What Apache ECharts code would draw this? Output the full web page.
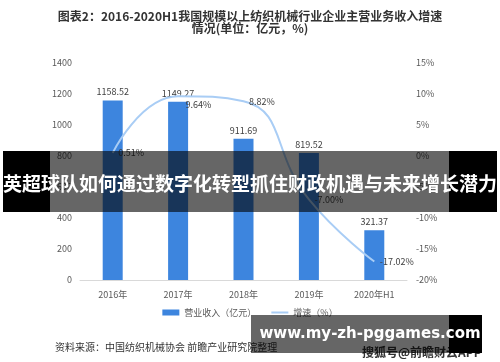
<!DOCTYPE html>
<html><head><meta charset="utf-8">
<script src="https://cdn.jsdelivr.net/npm/echarts@6/dist/echarts.min.js"></script>
<style>html,body{margin:0;padding:0;background:#fff}#c{width:500px;height:362px}</style>
</head><body><div id="c"></div>
<script>
var categories = ['2016年', '2017年', '2018年', '2019年', '2020年H1'];
var revenue = [1158.52, 1149.27, 911.69, 819.52, 321.37];
var growth = [0.51, 9.64, 8.82, -7.00, -17.02];
var leftTicks = [0, 1400, 200];
var rightTicks = [-20, 15, 5];
var titleText = '图表2：2016-2020H1我国规模以上纺织机械行业企业主营业务收入增速\n情况(单位：亿元，%)';
var sourceText = '资料来源：中国纺织机械协会 前瞻产业研究院整理';
var bannerText = '英超球队如何通过数字化转型抓住财政机遇与未来增长潜力';
var urlText = 'www.my-zh-pggames.com';
var seriesNames = ['营业收入（亿元）', '增速（%）'];

var font = '"Noto Sans CJK SC", "Noto Sans", sans-serif';
var growthData = growth.map(function (v, i) {
  return i === 1 ? {value: v, label: {position: [8, 4]}} : v;
});
var chart = echarts.init(document.getElementById('c'), null, {renderer: 'canvas'});
chart.setOption({
  animation: false,
  title: {
    text: titleText, left: 'center', top: 5,
    textStyle: {fontSize: 12, fontWeight: 'bold', color: '#333', fontFamily: font, lineHeight: 12}
  },
  legend: {
    top: 303, left: 'center', itemGap: 14,
    itemWidth: 17, itemHeight: 6,
    textStyle: {fontSize: 9, color: '#595959', fontFamily: font},
    data: [{name: seriesNames[0], icon: 'rect'}, {name: seriesNames[1]}]
  },
  grid: {left: 80, right: 93, top: 63, bottom: 82},
  xAxis: {
    type: 'category', data: categories,
    axisLine: {lineStyle: {color: '#d9d9d9'}},
    axisTick: {show: false},
    axisLabel: {fontSize: 9, color: '#595959', fontFamily: font, margin: 10}
  },
  yAxis: [{
    type: 'value', min: leftTicks[0], max: leftTicks[1], interval: leftTicks[2],
    splitLine: {show: false}, axisLine: {show: false}, axisTick: {show: false},
    axisLabel: {fontSize: 9, color: '#595959', fontFamily: font, margin: 8, formatter: function (v) { return String(v); }}
  }, {
    type: 'value', min: rightTicks[0], max: rightTicks[1], interval: rightTicks[2],
    splitLine: {show: false}, axisLine: {show: false}, axisTick: {show: false},
    axisLabel: {fontSize: 9, color: '#595959', fontFamily: font, margin: 9, formatter: '{value}%'}
  }],
  series: [{
    name: seriesNames[0], type: 'bar', data: revenue, barWidth: 20,
    itemStyle: {color: '#3d85de'},
    label: {show: true, position: 'top', fontSize: 9, color: '#404040', fontFamily: font, distance: 4}
  }, {
    name: seriesNames[1], type: 'line', yAxisIndex: 1, data: growthData, smooth: 0.5,
    symbol: 'circle', symbolSize: 1, showSymbol: true,
    lineStyle: {color: '#a9cdf5', width: 2}, itemStyle: {color: 'rgba(0,0,0,0)'},
    label: {show: true, position: 'right', fontSize: 9, color: '#404040', fontFamily: font, distance: 5,
      formatter: function (p) { return p.value.toFixed(2) + '%'; }},
    labelLayout: {hideOverlap: false}
  }],
  graphic: [
    {type: 'text', left: 55, top: 342, z: 10,
      style: {text: sourceText, fill: '#333', font: '10px ' + font}},
    {type: 'text', left: 362, top: 346, z: 10,
      style: {text: '搜狐号@前瞻财云APP', fill: '#333', font: 'bold 12px ' + font}},
    {type: 'rect', shape: {x: 3, y: 151, width: 494, height: 61}, z: 100,
      style: {fill: 'rgba(0,0,0,0.6)'}},
    {type: 'rect', shape: {x: 3, y: 151, width: 47, height: 61}, z: 101, style: {fill: '#000'}},
    {type: 'rect', shape: {x: 449, y: 151, width: 48, height: 61}, z: 101, style: {fill: '#000'}},
    {type: 'text', x: 250, y: 184, z: 102,
      style: {text: bannerText, fill: '#fff', font: 'bold 19px ' + font, textAlign: 'center', textVerticalAlign: 'middle'}},
    {type: 'rect', shape: {x: 251, y: 315, width: 198, height: 38}, z: 100, style: {fill: 'rgba(0,0,0,0.6)'}},
    {type: 'rect', shape: {x: 449, y: 315, width: 33, height: 38}, z: 101, style: {fill: '#000'}},
    {type: 'text', x: 370, y: 334, z: 102,
      style: {text: urlText, fill: '#fff', font: 'bold 15px "DejaVu Sans", sans-serif', textAlign: 'center', textVerticalAlign: 'middle'}}
  ]
});
</script></body></html>
